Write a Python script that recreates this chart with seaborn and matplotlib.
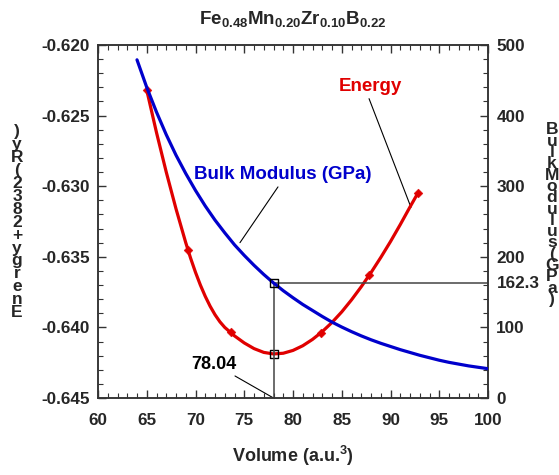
import matplotlib
matplotlib.use("Agg")
import matplotlib.pyplot as plt
from matplotlib.ticker import MultipleLocator
import seaborn as sns

# --- data ---
volume_fit = [65, 65.5, 66, 66.5, 67, 67.5, 68, 68.5, 69, 69.5, 70, 70.5, 71,
              71.5, 72, 72.5, 73, 73.5, 74, 75, 76, 77, 78, 79, 80, 81, 82, 83,
              84, 85, 86, 87, 88, 89, 90, 91, 92, 92.8]
energy_fit = [-0.6232, -0.6247, -0.6262, -0.6276, -0.6290, -0.6303, -0.6316,
              -0.6328, -0.6340, -0.6351, -0.6361, -0.6370, -0.6378, -0.6385,
              -0.6391, -0.6396, -0.6400, -0.6403, -0.6406, -0.64110, -0.64150,
              -0.64177, -0.64188, -0.64183, -0.64163, -0.64130, -0.64085,
              -0.64030, -0.63965, -0.63890, -0.63805, -0.63712, -0.63612,
              -0.63505, -0.63392, -0.63272, -0.63147, -0.63050]
volume_pts = [65.0, 69.2, 73.6, 82.9, 87.8, 92.8]
energy_pts = [-0.6232, -0.6345, -0.6403, -0.6404, -0.6363, -0.6305]

volume_bm = [64, 65, 66, 67, 68, 69, 70, 71, 72, 73, 74, 75, 76, 77, 78, 79,
             80, 81, 82, 83, 84, 85, 86, 87, 88, 89, 90, 91, 92, 93, 94, 95,
             96, 97, 98, 99, 100]
bulk_bm = [479, 440, 405, 373, 344, 318, 294, 272, 252, 234, 217, 202, 188,
           175, 163, 152, 142, 132.5, 124, 115.5, 107.5, 100.5, 94, 88, 82.5,
           77.5, 73, 68.5, 64.5, 60.5, 57, 53.5, 50.5, 48, 45.5, 43.5, 41.5]

v0 = 78.04
e0 = -0.64188
b0 = 162.3

red = "#e00000"
blue = "#0000cc"

sns.set_style("ticks")
plt.rcParams['font.family'] = ['Liberation Sans', 'DejaVu Sans']
plt.rcParams['font.weight'] = 'bold'
plt.rcParams['mathtext.fontset'] = 'custom'
plt.rcParams['mathtext.rm'] = 'Liberation Sans:bold'
plt.rcParams['mathtext.bf'] = 'Liberation Sans:bold'
plt.rcParams['mathtext.it'] = 'Liberation Sans:bold'

fig = plt.figure(figsize=(5.59, 4.75), dpi=100)
ax = fig.add_axes([98 / 559, 1 - 398 / 475, 390 / 559, 353 / 475])
ax2 = ax.twinx()

# energy curve + points
sns.lineplot(x=volume_fit, y=energy_fit, ax=ax, color=red, lw=2.3,
             sort=False, estimator=None, zorder=3)
sns.scatterplot(x=volume_pts, y=energy_pts, ax=ax, color=red, marker='D',
                s=20, edgecolor=red, zorder=4)

# bulk modulus curve
sns.lineplot(x=volume_bm, y=bulk_bm, ax=ax2, color=blue, lw=2.3,
             sort=False, estimator=None, zorder=3)

# reference lines at the equilibrium volume
ax2.plot([v0, v0], [0, b0], color='#444444', lw=1.1, zorder=2)
ax2.plot([v0, 100], [b0, b0], color='#444444', lw=1.1, zorder=2)
ax.scatter([v0], [e0], marker='s', s=34, facecolor='none', edgecolor='black',
           lw=1, zorder=5)
ax2.scatter([v0], [b0], marker='s', s=34, facecolor='none', edgecolor='black',
            lw=1, zorder=5)

ax.set_xlim(60, 100)
ax.set_ylim(-0.645, -0.620)
ax2.set_ylim(0, 500)

ax.xaxis.set_major_locator(MultipleLocator(5))
ax.xaxis.set_minor_locator(MultipleLocator(1))
ax.yaxis.set_major_locator(MultipleLocator(0.005))
ax.yaxis.set_minor_locator(MultipleLocator(0.001))
ax2.yaxis.set_major_locator(MultipleLocator(100))
ax2.yaxis.set_minor_locator(MultipleLocator(20))
ax.yaxis.set_major_formatter(plt.FuncFormatter(lambda v, p: f"{v:.3f}"))

ax.tick_params(which='both', direction='in', top=True, right=False,
               labelsize=12.3, color='#333333')
ax.tick_params(which='major', length=6, width=1)
ax.tick_params(which='minor', length=3.5, width=0.8)
ax.tick_params(axis='x', pad=11)
ax.tick_params(axis='y', pad=6)
ax2.tick_params(which='both', direction='in', labelsize=12.3, color='#333333')
ax2.tick_params(which='major', length=6, width=1, pad=6)
ax2.tick_params(which='minor', length=3.5, width=0.8)
for a in (ax, ax2):
    for sp in a.spines.values():
        sp.set_color('#333333')
        sp.set_linewidth(1.1)
        sp.set_visible(True)

ax.set_title(r"Fe$_{\mathbf{0.48}}$Mn$_{\mathbf{0.20}}$Zr$_{\mathbf{0.10}}$B$_{\mathbf{0.22}}$",
             fontsize=13.5, fontweight='bold', pad=15)
ax.set_xlabel(r"Volume (a.u.$^{\mathbf{3}}$)", fontsize=13, fontweight='bold',
              labelpad=11)
ax.set_ylabel("")
ax2.set_ylabel("")

# annotations
ax.text(87.9, -0.62297, "Energy", color=red, fontsize=13.5, fontweight='bold',
        ha='center', va='center')
ax.plot([87.8, 92.1], [-0.6238, -0.6315], color='black', lw=0.8)
ax2.text(78.9, 316, "Bulk Modulus (GPa)", color=blue, fontsize=13.5,
         fontweight='bold', ha='center', va='center')
ax2.plot([78.46, 74.56], [299, 220], color='black', lw=0.8)
ax.text(71.9, -0.64266, "78.04", color='black', fontsize=13,
        fontweight='bold', ha='center', va='center')
ax.plot([74.05, 78.0], [-0.64344, -0.645], color='black', lw=0.8)
ax2.text(1.024, b0, "162.3", transform=ax2.get_yaxis_transform(),
         fontsize=12.3, fontweight='bold', ha='left', va='center')

# stacked axis titles (one glyph per row, as in the original)
left_chars = "Energy+2832(Ry)"[::-1]
for i, ch in enumerate(left_chars):
    fig.text(17 / 559, 1 - (132 + i * 12.9) / 475, ch, fontsize=12.5,
             fontweight='bold', ha='center', va='center')
right_chars = "BulkModulus(GPa)"
for i, ch in enumerate(right_chars):
    fig.text(552 / 559, 1 - (130 + i * 11.3) / 475, ch, fontsize=12.5,
             fontweight='bold', ha='center', va='center')

fig.savefig("out.png", dpi=100)
